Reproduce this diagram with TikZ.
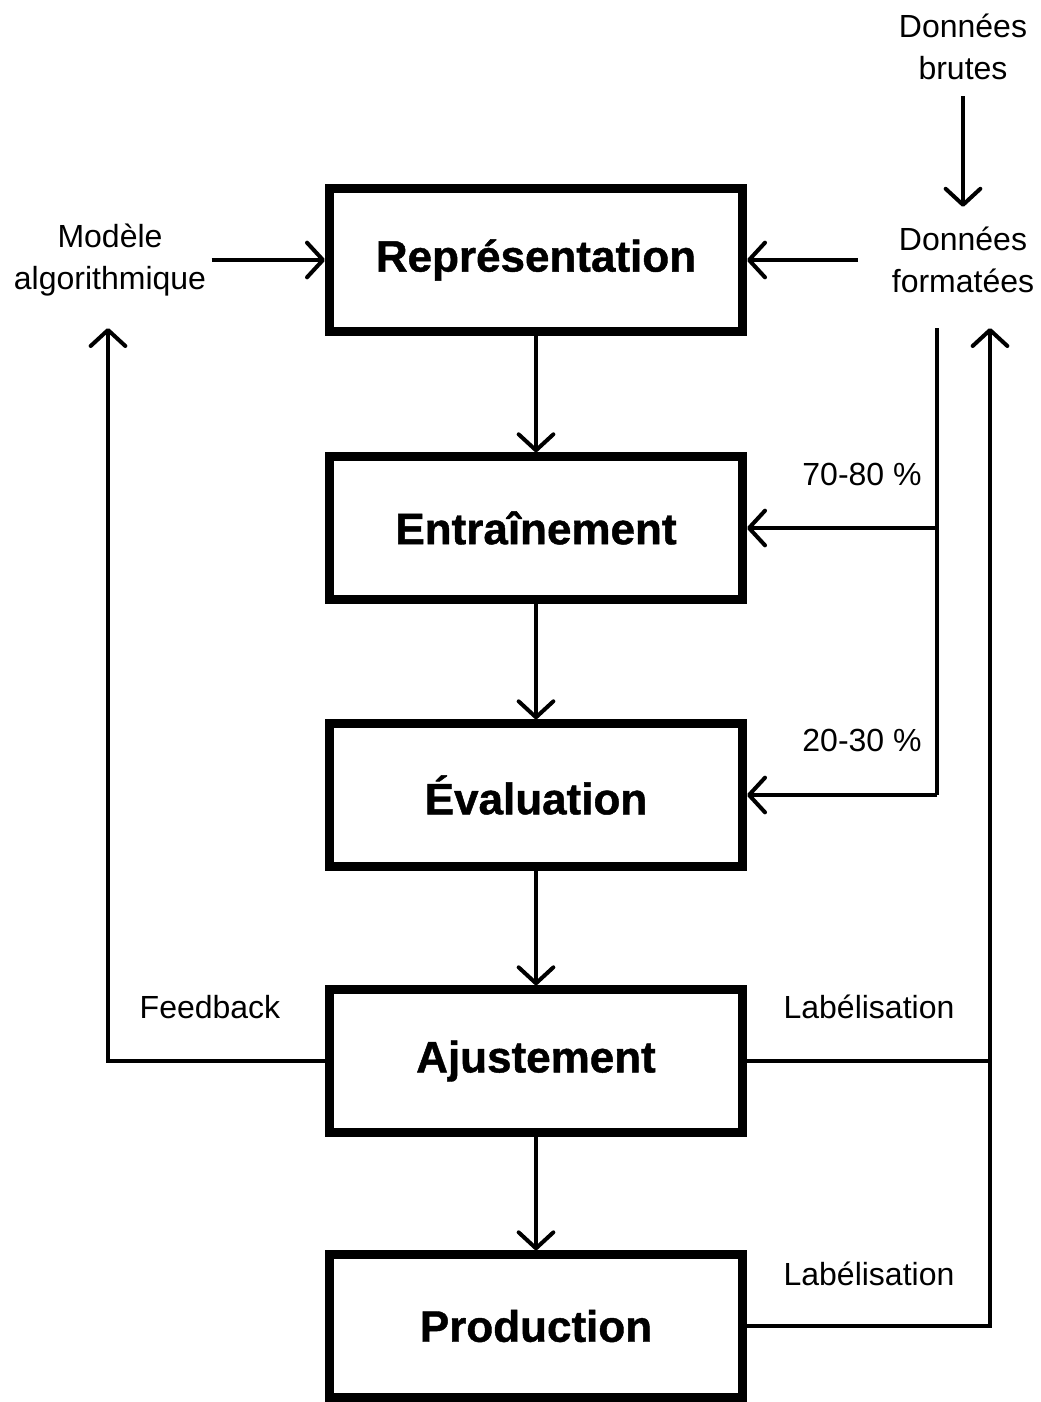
\documentclass[tikz,border=0pt]{standalone}
\usepackage{fontspec}
\setmainfont{Liberation Sans}[BoldFeatures={FakeBold=1}]
\usetikzlibrary{arrows.meta}
\usetikzlibrary{calc}

\begin{document}
\begin{tikzpicture} [
    x=0.75pt, y=-0.75pt,
    f/.style={line width=3pt,-{Straight Barb[length=12pt,width=26pt,line cap=round,round]}},
    l/.style={line width=3pt},
    etape/.style={
        draw, line width=6.5pt,
        minimum width=310pt, minimum height=107pt,
        inner sep=0pt,
        font=\fontsize{33}{40}\selectfont\bfseries
    },
    lbl/.style={
        align=center, inner sep=4pt,
        font=\fontsize{24}{31.5}\selectfont
    }
]
\useasboundingbox (0,0) rectangle (1040,1402);

\node [etape] (repr)  at (536,260)  {Représentation};
\node [etape] (entr)  at (536,528)  {Entraînement};
\node [etape] (eval)  at (536,795)  {Évaluation};
\node [etape] (ajust) at (536,1061) {Ajustement};
\node [etape] (prod)  at (536,1326) {Production};

\node [lbl] (modele)    at (110,260) {Modèle\\algorithmique};
\node [lbl] (formatees) at (963,260) {Données\\formatées};
\node [lbl] (brutes)    at (963,47)  {Données\\brutes};

\node [lbl] (p1)   at (862,474)  {70-80~\%};
\node [lbl] (p2)   at (862,740)  {20-30~\%};
\node [lbl] (fb)   at (210,1007) {Feedback};
\node [lbl] (lab1) at (869,1007) {Labélisation};
\node [lbl] (lab2) at (869,1274) {Labélisation};

\coordinate (dsplit) at (937,328);
\coordinate (dlab)   at (990,328);
\coordinate (dfb)    at (108,328);
\coordinate (dform)  at (858,260);

% chaine principale
\draw [f] (repr) -- (entr);
\draw [f] (entr) -- (eval);
\draw [f] (eval) -- (ajust);
\draw [f] (ajust) -- (prod);

% entrees
\draw [f] (modele.east) -- (repr.west);
\draw [f] (dform) -- (repr.east);
\draw [f,shorten <=8pt,shorten >=11pt] (brutes.south) -- (formatees.north);

% repartition des donnees
\draw [l] (dsplit) -- (dsplit |- eval.east);
\draw [f] (dsplit |- eval.east) -- (eval.east);
\draw [f] (dsplit |- entr.east) -- (entr.east);

% retours
\draw [f] (ajust.west) -| (dfb);
\draw [f] (prod.east) -| (dlab);
\draw [l] (ajust.east) -- (ajust.east -| dlab);

\end{tikzpicture}
\end{document}
